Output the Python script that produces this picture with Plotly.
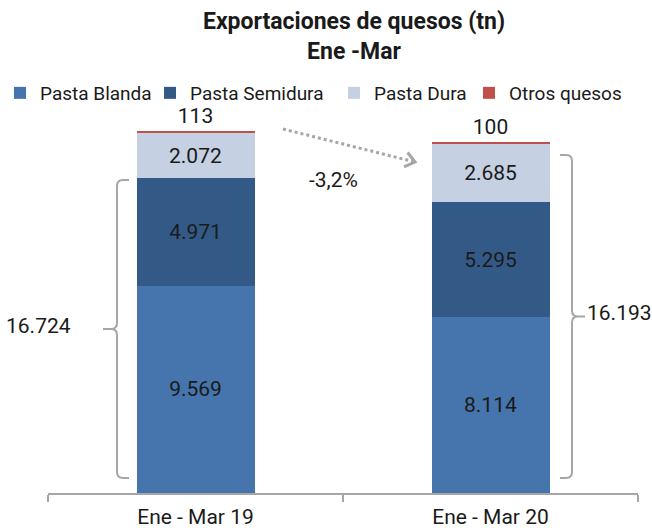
import math
import plotly.graph_objects as go

# ---------------- data ----------------
categories = ["Ene - Mar 19", "Ene - Mar 20"]
pasta_blanda = [9569, 8114]
pasta_semidura = [4971, 5295]
pasta_dura = [2072, 2685]
otros_quesos = [113, 100]
totals = [16724, 16193]          # values shown next to the braces
series_names = ["Pasta Blanda", "Pasta Semidura", "Pasta Dura", "Otros quesos"]

# ---------------- layout constants ----------------
W, H = 652, 528
ML, MR, MT, MB = 48, 14, 103, 35
Y_MAX = 18000
X_RANGE = [-0.5, 1.5]
BAR_W = 0.4
PLOT_W = W - ML - MR
PLOT_H = H - MT - MB
FONT = "Roboto, Arial, sans-serif"
TXT = "#1a1a1a"
GREY = "#a6a6a6"
colors = ["#4674AC", "#335A87", "#C5D0E2", "#C0504D"]
legend_symbol_centers = [15, 175, 359, 494]   # pixel x of each legend symbol


def dx(px):
    return px * (X_RANGE[1] - X_RANGE[0]) / PLOT_W


def dy(px):
    return px * Y_MAX / PLOT_H


def px_x(px):
    return X_RANGE[0] + dx(px - ML)


def px_y(py):
    return dy(H - MB - py)


def fmt(v):
    return f"{v:,.0f}".replace(",", ".")


fig = go.Figure()
values = [pasta_blanda, pasta_semidura, pasta_dura, otros_quesos]
legend_ids = ["legend", "legend2", "legend3", "legend4"]
for i, (name, vals, col) in enumerate(zip(series_names, values, colors)):
    last = i == len(values) - 1
    fig.add_trace(go.Bar(
        name=name, x=categories, y=vals, marker=dict(color=col, line=dict(width=0)),
        width=BAR_W,
        texttemplate="%{y:,.0f}",
        textposition="outside" if last else "inside",
        insidetextanchor="middle",
        textangle=0,
        constraintext="none",
        cliponaxis=False,
        textfont=dict(family=FONT, size=21, color=TXT),
        hoverinfo="skip",
        legend=legend_ids[i],
    ))

shapes = []
annotations = []

# ---------------- braces ----------------
brace_spans = [(px_y(478), px_y(180)), (px_y(478), px_y(155))]
r = 6
# left brace (bar 1)
edge = 0 - BAR_W / 2
xv = edge - dx(19.5)
xh = edge - dx(7.5)
xt = xv - dx(14)
yb, yt = brace_spans[0]
ym = (yb + yt) / 2
shapes.append(dict(
    type="path", xref="x", yref="y",
    path=(f"M {xh},{yt} L {xv + dx(r)},{yt} Q {xv},{yt} {xv},{yt - dy(r)} "
          f"L {xv},{ym + dy(r)} Q {xv},{ym} {xv - dx(r)},{ym} L {xt},{ym} "
          f"M {xv - dx(r)},{ym} Q {xv},{ym} {xv},{ym - dy(r)} "
          f"L {xv},{yb + dy(r)} Q {xv},{yb} {xv + dx(r)},{yb} L {xh},{yb}"),
    line=dict(color=GREY, width=2), fillcolor="rgba(0,0,0,0)"))
annotations.append(dict(x=xt - dx(30), y=ym, xref="x", yref="y", text=fmt(totals[0]),
                        xanchor="right", yanchor="middle", showarrow=False, yshift=3,
                        font=dict(family=FONT, size=21, color=TXT)))

# right brace (bar 2)
edge = 1 + BAR_W / 2
xv = edge + dx(22.5)
xh = edge + dx(10.5)
xt = xv + dx(13)
yb, yt = brace_spans[1]
ym = (yb + yt) / 2
shapes.append(dict(
    type="path", xref="x", yref="y",
    path=(f"M {xh},{yt} L {xv - dx(r)},{yt} Q {xv},{yt} {xv},{yt - dy(r)} "
          f"L {xv},{ym + dy(r)} Q {xv},{ym} {xv + dx(r)},{ym} L {xt},{ym} "
          f"M {xv + dx(r)},{ym} Q {xv},{ym} {xv},{ym - dy(r)} "
          f"L {xv},{yb + dy(r)} Q {xv},{yb} {xv - dx(r)},{yb} L {xh},{yb}"),
    line=dict(color=GREY, width=2), fillcolor="rgba(0,0,0,0)"))
annotations.append(dict(x=xt, y=ym, xref="x", yref="y", text=fmt(totals[1]),
                        xanchor="left", yanchor="middle", showarrow=False, yshift=4,
                        font=dict(family=FONT, size=21, color=TXT)))

# ---------------- dotted arrow ----------------
sx, sy = 283, 129
ex, ey = 415, 162
shapes.append(dict(type="line", xref="x", yref="y",
                   x0=px_x(sx), y0=px_y(sy), x1=px_x(ex - 2), y1=px_y(ey - 0.5),
                   line=dict(color=GREY, width=3, dash="dot")))
ang = math.atan2(sy - ey, sx - ex)
L = 12
pts = []
for a in (ang + math.radians(38), ang - math.radians(38)):
    pts.append((ex + L * math.cos(a), ey + L * math.sin(a)))
shapes.append(dict(type="path", xref="x", yref="y",
                   path=(f"M {px_x(pts[0][0])},{px_y(pts[0][1])} L {px_x(ex)},{px_y(ey)} "
                         f"L {px_x(pts[1][0])},{px_y(pts[1][1])}"),
                   line=dict(color=GREY, width=3), fillcolor="rgba(0,0,0,0)"))

pct = (totals[1] / totals[0] - 1) * 100
annotations.append(dict(x=px_x(333), y=px_y(180), xref="x", yref="y",
                        text=f"{pct:.1f}".replace(".", ",") + "%",
                        showarrow=False, font=dict(family=FONT, size=21, color=TXT)))

legend_layout = {}
for lid, c in zip(legend_ids, legend_symbol_centers):
    legend_layout[lid] = dict(
        orientation="h", x=(c - 25) / W, xref="container", xanchor="left",
        y=1 - 93 / H, yref="container", yanchor="middle",
        font=dict(family=FONT, size=19, color=TXT),
        bgcolor="rgba(0,0,0,0)", borderwidth=0,
        itemclick=False, itemdoubleclick=False)

fig.update_layout(
    width=W, height=H,
    margin=dict(l=ML, r=MR, t=MT, b=MB, autoexpand=False),
    barmode="stack",
    separators=",.",
    plot_bgcolor="white", paper_bgcolor="white",
    font=dict(family=FONT, color=TXT),
    title=dict(text="<b>Exportaciones de quesos (tn)<br>Ene -Mar</b>",
               x=354 / W, xref="container", xanchor="center",
               y=1 - 29 / H, yref="container", yanchor="top",
               font=dict(family=FONT, size=23, color=TXT)),
    xaxis=dict(range=X_RANGE, showline=True, linecolor=GREY, linewidth=1.5,
               ticks="outside", tickson="boundaries", ticklen=7, tickcolor=GREY,
               tickwidth=1.5, showgrid=False, zeroline=False,
               ticklabelstandoff=4,
               tickfont=dict(family=FONT, size=21, color=TXT)),
    yaxis=dict(range=[0, Y_MAX], visible=False, showgrid=False, zeroline=False),
    shapes=shapes,
    annotations=annotations,
    showlegend=True,
    **legend_layout,
)

fig.write_html("out.html",
               config={"displayModeBar": False},
               post_script="document.body.style.margin='0';document.body.style.overflow='hidden';")
